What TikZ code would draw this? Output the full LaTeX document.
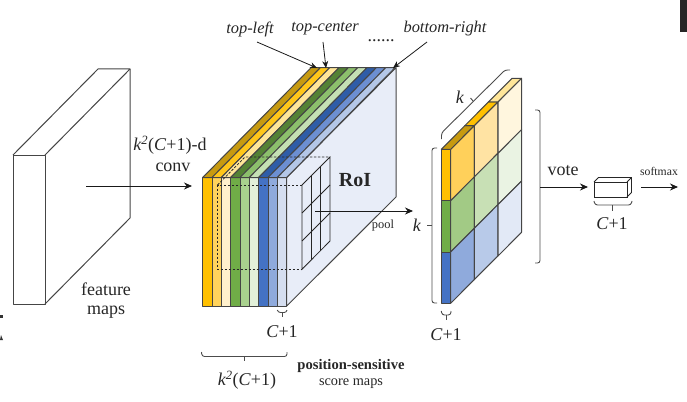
\documentclass[tikz,border=0pt]{standalone}
\usepackage{fontspec}
\setmainfont{Liberation Serif}
\usetikzlibrary{arrows.meta}
\definecolor{lnc}{HTML}{454545}
\definecolor{sidec}{HTML}{E8EDF8}
\definecolor{oa}{HTML}{FFC000}\definecolor{ob}{HTML}{FFD35C}\definecolor{oc}{HTML}{FFF0CC}
\definecolor{ga}{HTML}{70AD47}\definecolor{gb}{HTML}{A9D18E}\definecolor{gc}{HTML}{E2F0D9}
\definecolor{ba}{HTML}{4472C4}\definecolor{bb}{HTML}{8FAADC}\definecolor{bc}{HTML}{D5DEF0}
\definecolor{ta}{HTML}{C79A10}\definecolor{tb}{HTML}{FFC61A}\definecolor{tc}{HTML}{FFE699}
\definecolor{tg}{HTML}{548235}\definecolor{th}{HTML}{8CBF6C}\definecolor{ti}{HTML}{C5E0B4}
\definecolor{tj}{HTML}{2F5DA8}\definecolor{tk}{HTML}{6C8FD2}\definecolor{tl}{HTML}{B4C7E7}
\definecolor{ma}{HTML}{FFD05A}\definecolor{mb}{HTML}{FFE3A3}\definecolor{mc}{HTML}{FFF6DE}
\definecolor{na}{HTML}{A2CA85}\definecolor{nb}{HTML}{C8E0B5}\definecolor{nc}{HTML}{EAF3E3}
\definecolor{pa}{HTML}{8FAADC}\definecolor{pb}{HTML}{B8CAE9}\definecolor{pc}{HTML}{E2E9F6}
\tikzset{
  edge/.style={draw=lnc,line width=1pt,line join=round},
  bracket/.style={draw=black!70,line width=0.9pt,rounded corners=2.5pt},
  stem/.style={draw=black!70,line width=0.9pt},
  flow/.style={draw=black!90,line width=0.9pt,-{Stealth[length=8pt,width=7pt]}},
  pointer/.style={draw=black!90,line width=0.8pt,-{Stealth[length=7pt,width=6pt]}},
  roi/.style={draw=black!85,line width=0.8pt,dash pattern=on 2.5pt off 1.5pt},
  grid line/.style={draw=black!85,line width=0.8pt},
  label/.style={inner sep=0pt,text=black!85},
  big/.style={label,font=\fontsize{18}{20}\selectfont},
  ital/.style={label,font=\fontsize{16.4}{18}\selectfont\itshape},
}
\begin{document}
\begin{tikzpicture}[x=1pt,y=-1pt]
\useasboundingbox (0,0) rectangle (687,401);
% scan artefacts at the edges
\fill[black!85] (680,0) rectangle (687,32);
\fill[black!80] (0,315) rectangle (3,318);
\fill[black!80] (0,340) -- (1,335) -- (3,340) -- cycle;
% feature maps block
\draw[edge,fill=white] (13,155) rectangle (45,304);
\draw[edge] (13,155) -- (98,69) -- (130,69) -- (45,155);
\draw[edge] (45,304) -- (130,218) -- (130,69);
\coordinate (convstart) at (86,186);
\coordinate (convend) at (192,186);
\draw[flow] (convstart) -- (convend);
% score maps: side face
\filldraw[edge,fill=sidec] (286.7,306) -- (396,197) -- (396,67.7) -- (286.7,177.5) -- cycle;
% stripes: front and top faces
\foreach \i/\fc/\tcl in {0/oa/ta,1/ob/tb,2/oc/tc,3/ga/tg,4/gb/th,5/gc/ti,6/ba/tj,7/bb/tk,8/bc/tl}{
  \pgfmathsetmacro{\xa}{202.7+9.33*\i}
  \pgfmathsetmacro{\xb}{\xa+9.33}
  \filldraw[edge,fill=\fc] (\xa,177.5) rectangle (\xb,306);
  \filldraw[edge,fill=\tcl] (\xa,177.5) -- (\xa+108.3,67.7) -- (\xb+108.3,67.7) -- (\xb,177.5) -- cycle;
}
% RoI cube
\draw[roi] (302,185) -- (217.5,185) -- (217.5,269.3) -- (302,269.3);
\draw[roi] (217.5,185) -- (245,157) -- (330,157);
\draw[grid line] (302,185) -- (330,157) -- (330,241) -- (302,269.3) -- cycle;
\draw[grid line] (311.3,175.7) -- (311.3,260);
\draw[grid line] (320.7,166.3) -- (320.7,250.7);
\draw[grid line] (302,213) -- (330,185);
\draw[grid line] (302,241) -- (330,213);
\coordinate (poolstart) at (315,211);
\coordinate (poolend) at (413,211);
\draw[flow] (poolstart) -- (poolend);
% k x k grid
\foreach \c/\x/\aa/\ab/\ac in {0/450.7/ma/na/pa,1/474.3/mb/nb/pb,2/498/mc/nc/pc}{
  \pgfmathsetmacro{\xn}{\x+23.55}
  \pgfmathsetmacro{\yo}{\c*23.65}
  \foreach \r/\col in {0/\aa,1/\ab,2/\ac}{
    \pgfmathsetmacro{\ya}{149.3+51.33*\r-\yo}
    \pgfmathsetmacro{\yb}{\ya+51.33}
    \filldraw[edge,fill=\col] (\x,\ya) -- (\xn,\ya-23.65) -- (\xn,\yb-23.65) -- (\x,\yb) -- cycle;
  }
}
\foreach \c/\col in {0/ta,1/oa,2/tc}{
  \pgfmathsetmacro{\xa}{441.3+23.55*\c}
  \pgfmathsetmacro{\ya}{149.3-23.65*\c}
  \filldraw[edge,fill=\col] (\xa,\ya) -- (\xa+9.4,\ya) -- (\xa+32.95,\ya-23.65) -- (\xa+23.55,\ya-23.65) -- cycle;
}
\filldraw[edge,fill=oa] (441.3,149.3) rectangle (450.7,200.6);
\filldraw[edge,fill=ga] (441.3,200.6) rectangle (450.7,252);
\filldraw[edge,fill=ba] (441.3,252) rectangle (450.7,303.3);
% small output box
\filldraw[draw=black!85,line width=0.8pt,fill=white] (594,182) rectangle (627,197);
\draw[draw=black!85,line width=0.8pt] (594,182) -- (598.5,177.5) -- (631.5,177.5) -- (631.5,192.5) -- (627,197) (627,182) -- (631.5,177.5);
% brackets
\draw[bracket] (277.3,310) -- (278,312.5) -- (286.7,312.5) -- (287,310);
\draw[stem] (282,312.5) -- (282,317);
\draw[bracket] (201.5,352) -- (202,356.5) -- (287,356.5) -- (287,352);
\draw[stem] (244,356.5) -- (244,361);
\draw[bracket] (441.3,311) -- (442,315) -- (450.7,315) -- (451,311);
\draw[stem] (446,315) -- (446,320);
\draw[bracket] (437,148) -- (432,148) -- (432,303) -- (437,303);
\draw[stem] (427,225) -- (432,225);
\draw[bracket] (441.5,139) -- (441.5,133) -- (505,70) -- (510,70);
\draw[stem] (470.5,98) -- (473,101);
\draw[bracket] (535,110) -- (540,110) -- (540,263) -- (535,263);
\draw[bracket] (594,201) -- (595,205) -- (631,205) -- (632,201);
\draw[stem] (612,205) -- (612,211);
% flows to output
\coordinate (votestart) at (540,187);
\coordinate (voteend) at (588,187);
\coordinate (softstart) at (641,187);
\coordinate (softend) at (678,187);
\draw[flow] (votestart) -- (voteend);
\draw[flow] (softstart) -- (softend);
% labelling arrows
\node[ital] (tl) at (250,29) {top-left};
\node[ital] (tcn) at (325,29) {top-center};
\node[ital] (br) at (445,29) {bottom-right};
\node[label,font=\fontsize{18}{20}\selectfont] (dots) at (381,41) {......};
\coordinate (tlend) at (317,68);
\coordinate (tcend) at (326,68);
\coordinate (brend) at (393,68);
\draw[pointer] (257,42) -- (tlend);
\draw[pointer] (323,42) -- (tcend);
\draw[pointer] (427,42) -- (brend);
% text
\node[big] (fa) at (106,289) {feature};
\node[big] (fb) at (106,312) {maps};
\node[big] (ka) at (170,145) {$\mathit{k}^{\mathit{2}}$(\textit{C}+1)-d};
\node[big] (cv) at (173,167) {conv};
\node[label,font=\fontsize{20}{22}\selectfont\bfseries] (roil) at (355,180) {RoI};
\node[label,font=\fontsize{12.4}{14}\selectfont] (pl) at (383,226) {pool};
\node[big] (c1) at (282,332) {\textit{C}+1};
\node[big] (c2) at (247,380) {$\mathit{k}^{\mathit{2}}$(\textit{C}+1)};
\node[label,font=\fontsize{14.6}{16}\selectfont\bfseries] (ps) at (351,366) {position-sensitive};
\node[label,font=\fontsize{14.3}{16}\selectfont] (sm) at (351,384) {score maps};
\node[big] (kl) at (417,225) {\textit{k}};
\node[big] (kt) at (460,97) {\textit{k}};
\node[big] (c3) at (446,335) {\textit{C}+1};
\node[big] (vt) at (563,171) {vote};
\node[big] (c4) at (612,224) {\textit{C}+1};
\node[label,font=\fontsize{11.7}{13}\selectfont] (sf) at (659,171) {softmax};
\end{tikzpicture}
\end{document}
